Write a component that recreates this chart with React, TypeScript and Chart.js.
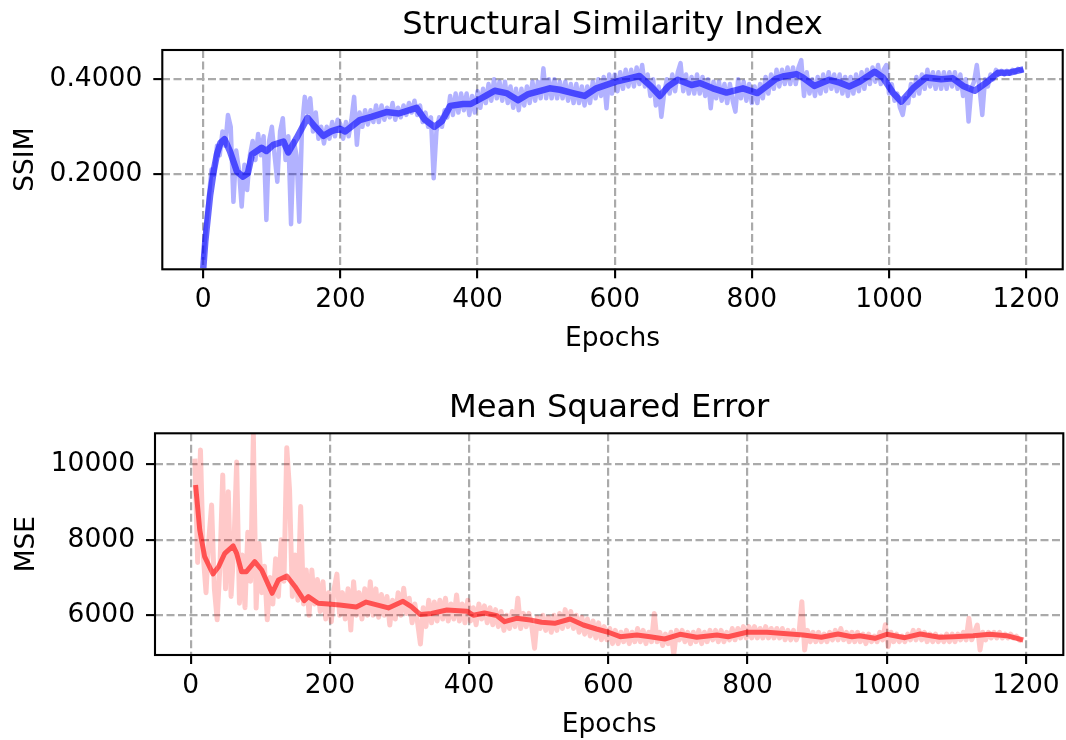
import React, { useEffect, useRef } from 'react';
import { Chart, registerables } from 'chart.js';

Chart.register(...registerables);

const FAMILY = '"DejaVu Sans", "Liberation Sans", sans-serif';

// ---------- SSIM (top panel) ----------
const SSIM_RAW_START = 0;
const SSIM_RAW_STEP = 4;
const SSIM_RAW = [
  0.02, 0.09, 0.15, 0.21, 0.20, 0.26, 0.24, 0.29, 0.26, 0.325,
  0.30, 0.142, 0.25, 0.21, 0.132, 0.22, 0.167, 0.24, 0.27, 0.23,
  0.285, 0.24, 0.28, 0.104, 0.27, 0.30, 0.24, 0.1845, 0.29, 0.318,
  0.23, 0.28, 0.095, 0.27, 0.24, 0.100, 0.30, 0.363, 0.33, 0.36,
  0.29, 0.33, 0.275, 0.30, 0.265, 0.30, 0.275, 0.31, 0.28, 0.315,
  0.305, 0.275, 0.31, 0.28, 0.315, 0.363, 0.262, 0.33, 0.30, 0.335,
  0.305, 0.335, 0.31, 0.345, 0.31, 0.345, 0.315, 0.34, 0.32, 0.35,
  0.315, 0.34, 0.32, 0.345, 0.325, 0.35, 0.33, 0.355, 0.325, 0.345,
  0.31, 0.33, 0.30, 0.32, 0.1916, 0.29, 0.32, 0.30, 0.335, 0.32,
  0.365, 0.325, 0.37, 0.33, 0.37, 0.335, 0.37, 0.325, 0.365, 0.33,
  0.375, 0.34, 0.38, 0.35, 0.39, 0.355, 0.40, 0.36, 0.395, 0.355,
  0.395, 0.35, 0.385, 0.34, 0.38, 0.335, 0.38, 0.345, 0.385, 0.35,
  0.395, 0.355, 0.395, 0.36, 0.423, 0.36, 0.40, 0.36, 0.40, 0.36,
  0.395, 0.36, 0.395, 0.355, 0.39, 0.35, 0.39, 0.35, 0.385, 0.345,
  0.385, 0.35, 0.395, 0.36, 0.40, 0.365, 0.405, 0.339, 0.41, 0.37,
  0.41, 0.375, 0.415, 0.38, 0.42, 0.385, 0.42, 0.385, 0.425, 0.39,
  0.43, 0.385, 0.41, 0.365, 0.40, 0.345, 0.385, 0.321, 0.37, 0.40,
  0.37, 0.41, 0.375, 0.415, 0.434, 0.375, 0.41, 0.37, 0.405, 0.37,
  0.41, 0.37, 0.405, 0.365, 0.40, 0.339, 0.395, 0.36, 0.395, 0.355,
  0.39, 0.35, 0.39, 0.355, 0.332, 0.40, 0.36, 0.395, 0.355, 0.39,
  0.35, 0.385, 0.35, 0.39, 0.36, 0.405, 0.37, 0.41, 0.38, 0.42,
  0.385, 0.42, 0.39, 0.425, 0.39, 0.425, 0.39, 0.425, 0.4406, 0.365,
  0.415, 0.37, 0.40, 0.365, 0.405, 0.37, 0.41, 0.375, 0.415, 0.38,
  0.41, 0.375, 0.41, 0.37, 0.405, 0.365, 0.405, 0.37, 0.41, 0.375,
  0.415, 0.38, 0.42, 0.39, 0.425, 0.395, 0.43, 0.39, 0.42, 0.43,
  0.37, 0.39, 0.355, 0.37, 0.34, 0.325, 0.36, 0.35, 0.39, 0.365,
  0.405, 0.37, 0.41, 0.38, 0.42, 0.385, 0.415, 0.38, 0.415, 0.38,
  0.415, 0.38, 0.415, 0.385, 0.415, 0.38, 0.41, 0.365, 0.40, 0.311,
  0.38, 0.395, 0.43, 0.38, 0.325, 0.40, 0.385, 0.41, 0.40, 0.42,
  0.41, 0.418, 0.41, 0.418, 0.412, 0.42, 0.415, 0.422, 0.418, 0.421,
];
const SSIM_SMOOTH_EPOCHS = [
  0, 3, 10, 15, 20, 25, 31, 39, 49, 58,
  65, 71, 85, 92, 102, 117, 124, 136, 152, 163,
  175, 187, 199, 207, 228, 245, 267, 285, 311, 323,
  337, 348, 360, 379, 390, 403, 413, 425, 442, 459,
  474, 505, 520, 539, 556, 573, 602, 636, 653, 666,
  678, 692, 712, 724, 743, 763, 787, 808, 821, 835,
  845, 865, 874, 891, 913, 928, 942, 957, 979, 991,
  1006, 1018, 1035, 1054, 1076, 1093, 1108, 1125, 1142, 1159,
  1176, 1196,
];
const SSIM_SMOOTH = [
  0.002, 0.06, 0.156, 0.205, 0.243, 0.266, 0.274, 0.248, 0.206, 0.195,
  0.202, 0.242, 0.256, 0.249, 0.262, 0.269, 0.246, 0.276, 0.319, 0.300,
  0.281, 0.291, 0.296, 0.290, 0.314, 0.321, 0.331, 0.328, 0.340, 0.315,
  0.300, 0.312, 0.344, 0.348, 0.348, 0.358, 0.366, 0.376, 0.371, 0.356,
  0.369, 0.381, 0.378, 0.371, 0.365, 0.381, 0.395, 0.407, 0.385, 0.365,
  0.385, 0.399, 0.388, 0.392, 0.381, 0.372, 0.381, 0.371, 0.385, 0.401,
  0.406, 0.411, 0.404, 0.386, 0.399, 0.393, 0.385, 0.395, 0.416, 0.404,
  0.371, 0.353, 0.381, 0.404, 0.400, 0.402, 0.386, 0.376, 0.393, 0.414,
  0.414, 0.421,
];
const SSIM_TICKS = [0.2, 0.4];

// ---------- MSE (bottom panel) ----------
const MSE_RAW_START = 6;
const MSE_RAW_STEP = 4;
const MSE_RAW = [
  10150, 7400, 10380, 7600, 6600, 8000, 8920, 6700, 5880, 7300,
  9717, 6700, 9275, 6500, 7800, 10060, 6320, 7600, 6200, 8200,
  6900, 10780, 6190, 7900, 6600, 7300, 5880, 7000, 6300, 7500,
  6500, 8000, 6900, 10440, 9320, 6500, 7600, 6400, 8880, 6300,
  7200, 6000, 7200, 6300, 6950, 6100, 6890, 5900, 6600, 5830,
  6700, 7090, 6000, 6600, 5900, 6700, 5610, 6890, 6000, 6600,
  5900, 6700, 6000, 6890, 6000, 6700, 5950, 6550, 6000, 6500,
  5740, 6400, 5900, 6600, 6000, 6715, 6050, 6450, 5800, 6300,
  5800, 5240, 6200, 5700, 6400, 5800, 6350, 5850, 6400, 5900,
  6450, 5850, 6300, 5900, 6540, 5850, 6300, 5800, 6400, 5850,
  6200, 5750, 6300, 5900, 6250, 5800, 6200, 5750, 6150, 5700,
  6100, 5600, 6000, 5650, 6100, 5700, 6450, 5650, 6050, 5700,
  6050, 5700, 5126, 5950, 5650, 6000, 5600, 5950, 5550, 6000,
  5600, 6050, 5650, 6150, 5700, 6100, 5650, 6000, 5550, 5950,
  5500, 5900, 5450, 5850, 5400, 5800, 5350, 5700, 5350, 5650,
  5250, 5600, 5250, 5550, 5300, 5600, 5250, 5550, 5300, 5650,
  5300, 5600, 5250, 5550, 5300, 6050, 5300, 5550, 5200, 5500,
  5250, 5550, 4960, 5600, 5350, 5600, 5300, 5550, 5250, 5550,
  5300, 5600, 5250, 5550, 5300, 5600, 5350, 5600, 5300, 5600,
  5300, 5550, 5350, 5650, 5350, 5650, 5400, 5700, 5400, 5700,
  5400, 5700, 5400, 5650, 5400, 5700, 5400, 5650, 5400, 5650,
  5400, 5650, 5350, 5600, 5350, 5600, 5350, 5550, 6360, 5080,
  5600, 5300, 5550, 5300, 5550, 5300, 5500, 5300, 5550, 5350,
  5600, 5350, 5650, 5350, 5550, 5300, 5550, 5300, 5550, 5300,
  5500, 5250, 5500, 5300, 5450, 5300, 5550, 5350, 5750, 5170,
  5550, 5300, 5500, 5300, 5450, 5300, 5500, 5350, 5600, 5350,
  5600, 5350, 5550, 5300, 5500, 5300, 5500, 5300, 5450, 5300,
  5500, 5300, 5500, 5300, 5500, 5350, 5550, 5350, 5920, 5350,
  5550, 5743, 5081, 5550, 5350, 5550, 5400, 5550, 5400, 5550,
  5400, 5500, 5400, 5500, 5400, 5450, 5350, 5320,
];
const MSE_SMOOTH_EPOCHS = [
  7, 13, 20, 32, 40, 49, 61, 66, 73, 80,
  92, 102, 117, 126, 138, 150, 163, 169, 183, 198,
  214, 238, 252, 284, 305, 317, 330, 346, 368, 397,
  406, 422, 440, 451, 468, 488, 504, 523, 545, 564,
  583, 600, 617, 641, 660, 681, 703, 727, 756, 772,
  799, 828, 847, 880, 906, 930, 950, 961, 983, 1000,
  1026, 1048, 1076, 1096, 1124, 1148, 1172, 1196,
];
const MSE_SMOOTH = [
  9452, 8260, 7553, 7094, 7287, 7642, 7836, 7642, 7155, 7155,
  7420, 7200, 6583, 6935, 7041, 6758, 6387, 6493, 6318, 6299,
  6273, 6220, 6350, 6195, 6370, 6228, 6020, 6050, 6140, 6110,
  6000, 6060, 5990, 5830, 5920, 5875, 5815, 5788, 5902, 5743,
  5637, 5550, 5433, 5478, 5433, 5372, 5497, 5417, 5478, 5433,
  5550, 5550, 5523, 5478, 5417, 5505, 5433, 5460, 5390, 5497,
  5407, 5505, 5417, 5433, 5460, 5497, 5460, 5346,
];
const MSE_TICKS = [6000, 8000, 10000];

const EPOCH_TICKS = [0, 200, 400, 600, 800, 1000, 1200];

type Panel = {
  title: string;
  ylabel: string;
  xlabel: string;
  raw: { x: number; y: number }[];
  smooth: { x: number; y: number }[];
  rawColor: string;
  smoothColor: string;
  rawWidth: number;
  smoothWidth: number;
  yTicks: number[];
  yFmt: (v: number) => string;
  xMin: number;
  xMax: number;
  yMin: number;
  yMax: number;
  padTop: number;
  padRight: number;
  yAxisWidth: number;
  xAxisHeight: number;
  xlabelBaseline: number;
  ylabelX: number;
};

function makeConfig(p: Panel): any {
  const decor = {
    id: 'decor',
    afterDraw(chart: any) {
      const { ctx, chartArea: a } = chart;
      ctx.save();
      ctx.strokeStyle = '#000';
      ctx.lineWidth = 2.1;
      ctx.strokeRect(a.left, a.top, a.right - a.left, a.bottom - a.top);
      ctx.fillStyle = '#000';
      ctx.textAlign = 'center';
      ctx.textBaseline = 'alphabetic';
      ctx.font = `32.2px ${FAMILY}`;
      ctx.fillText(p.title, (a.left + a.right) / 2, a.top - 16);
      ctx.font = `26.5px ${FAMILY}`;
      ctx.fillText(p.xlabel, (a.left + a.right) / 2, p.xlabelBaseline);
      ctx.translate(p.ylabelX, (a.top + a.bottom) / 2);
      ctx.rotate(-Math.PI / 2);
      ctx.fillText(p.ylabel, 0, 0);
      ctx.restore();
    },
  };
  const tickFont = { family: FAMILY, size: 26.5 };
  const grid = {
    color: '#aaaaaa',
    lineWidth: 2.2,
    drawTicks: true,
    tickLength: 9,
    tickColor: '#000',
    tickWidth: 2.1,
    tickBorderDash: [],
  };
  const border = { display: false, dash: [8, 3.5] };
  return {
    type: 'line',
    data: {
      datasets: [
        {
          data: p.smooth,
          borderColor: p.smoothColor,
          borderWidth: p.smoothWidth,
          pointRadius: 0,
          tension: 0,
          fill: false,
          borderJoinStyle: 'round',
          borderCapStyle: 'butt',
          clip: 0,
          order: 0,
        },
        {
          data: p.raw,
          borderColor: p.rawColor,
          borderWidth: p.rawWidth,
          pointRadius: 0,
          tension: 0,
          fill: false,
          borderJoinStyle: 'round',
          borderCapStyle: 'butt',
          clip: 0,
          order: 1,
        },
      ],
    },
    options: {
      responsive: false,
      animation: false,
      devicePixelRatio: 1,
      events: [],
      layout: { padding: { top: p.padTop, right: p.padRight, left: 0, bottom: 0 } },
      plugins: {
        legend: { display: false },
        tooltip: { enabled: false },
        title: { display: false },
      },
      scales: {
        x: {
          type: 'linear',
          min: p.xMin,
          max: p.xMax,
          afterFit: (s: any) => {
            s.height = p.xAxisHeight;
          },
          afterBuildTicks: (s: any) => {
            s.ticks = EPOCH_TICKS.map((v) => ({ value: v }));
          },
          ticks: {
            autoSkip: false,
            maxRotation: 0,
            minRotation: 0,
            padding: 6,
            color: '#000',
            font: tickFont,
            callback: (v: any) => String(v),
          },
          grid,
          border,
        },
        y: {
          type: 'linear',
          min: p.yMin,
          max: p.yMax,
          afterFit: (s: any) => {
            s.width = p.yAxisWidth;
          },
          afterBuildTicks: (s: any) => {
            s.ticks = p.yTicks.map((v) => ({ value: v }));
          },
          ticks: {
            autoSkip: false,
            padding: 11,
            color: '#000',
            font: tickFont,
            callback: (v: any) => p.yFmt(Number(v)),
          },
          grid,
          border,
        },
      },
    },
    plugins: [decor],
  };
}

export default function App() {
  const topRef = useRef<HTMLCanvasElement>(null);
  const botRef = useRef<HTMLCanvasElement>(null);

  useEffect(() => {
    document.body.style.margin = '0';
    document.body.style.background = '#fff';

    const ssimRaw = SSIM_RAW.map((v, i) => ({ x: SSIM_RAW_START + i * SSIM_RAW_STEP, y: v }));
    const ssimSmooth = SSIM_SMOOTH.map((v, i) => ({ x: SSIM_SMOOTH_EPOCHS[i], y: v }));
    const mseRaw = MSE_RAW.map((v, i) => ({ x: MSE_RAW_START + i * MSE_RAW_STEP, y: v }));
    const mseSmooth = MSE_SMOOTH.map((v, i) => ({ x: MSE_SMOOTH_EPOCHS[i], y: v }));

    const top = new Chart(
      topRef.current as HTMLCanvasElement,
      makeConfig({
        title: 'Structural Similarity Index',
        ylabel: 'SSIM',
        xlabel: 'Epochs',
        raw: ssimRaw,
        smooth: ssimSmooth,
        rawColor: 'rgba(0,0,255,0.3)',
        smoothColor: 'rgba(0,0,255,0.6)',
        rawWidth: 4.5,
        smoothWidth: 6.5,
        yTicks: SSIM_TICKS,
        yFmt: (v) => v.toFixed(4),
        xMin: -59.75,
        xMax: 1253.3,
        yMin: 0,
        yMax: 0.4617,
        padTop: 50,
        padRight: 2.7,
        yAxisWidth: 162.3,
        xAxisHeight: 100.7,
        xlabelBaseline: 346,
        ylabelX: 33.3,
      })
    );
    const bottom = new Chart(
      botRef.current as HTMLCanvasElement,
      makeConfig({
        title: 'Mean Squared Error',
        ylabel: 'MSE',
        xlabel: 'Epochs',
        raw: mseRaw,
        smooth: mseSmooth,
        rawColor: 'rgba(255,0,0,0.21)',
        smoothColor: 'rgba(255,0,0,0.6)',
        rawWidth: 5,
        smoothWidth: 5,
        yTicks: MSE_TICKS,
        yFmt: (v) => String(Math.round(v)),
        xMin: -51.3,
        xMax: 1253.6,
        yMin: 4948,
        yMax: 10821,
        padTop: 63.3,
        padRight: 2.7,
        yAxisWidth: 155,
        xAxisHeight: 85,
        xlabelBaseline: 361.5,
        ylabelX: 34,
      })
    );
    return () => {
      top.destroy();
      bottom.destroy();
    };
  }, []);

  return (
    <div style={{ position: 'relative', width: 1066, height: 740, background: '#fff' }}>
      <canvas
        ref={topRef}
        width={1066}
        height={370}
        style={{ position: 'absolute', left: 0, top: 0, width: 1066, height: 370, display: 'block' }}
      />
      <canvas
        ref={botRef}
        width={1066}
        height={370}
        style={{ position: 'absolute', left: 0, top: 370, width: 1066, height: 370, display: 'block' }}
      />
    </div>
  );
}
